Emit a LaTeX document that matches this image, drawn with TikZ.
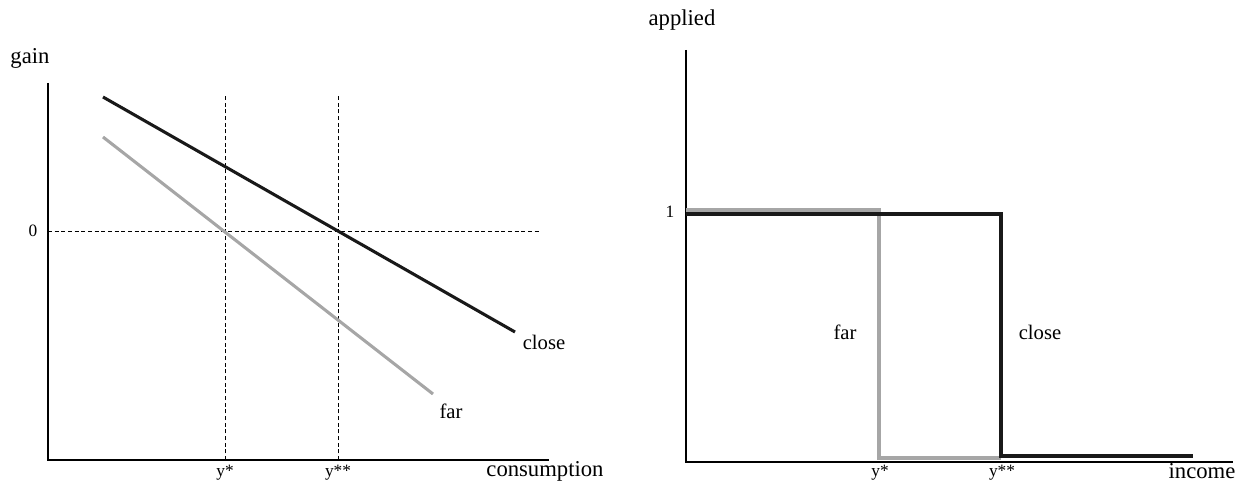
\documentclass[tikz,border=0pt]{standalone}
\usepackage{fontspec}
\setmainfont{Liberation Serif}
\begin{document}
\begin{tikzpicture}
		[x=0.75pt,y=-0.75pt,
		axis/.style={line width=1.5pt,black},
		closeline/.style={line width=2.3pt,black!90},
		farline/.style={line width=2.3pt,black!35},
		guide/.style={dashed,line width=0.6pt,dash pattern=on 3pt off 2pt},
		biglabel/.style={font=\fontsize{17}{20}\selectfont},
		midlabel/.style={font=\fontsize{15.5}{18}\selectfont},
		ticklabel/.style={font=\fontsize{13}{15}\selectfont}]
		\useasboundingbox (0,0) rectangle (1247,485);
		% left panel
		\coordinate (lo) at (48,460);
		\coordinate (ltop) at (48,83);
		\coordinate (lend) at (549,460);
		\coordinate (zero) at (48,231);
		\coordinate (zeroend) at (540,231);
		\coordinate (ys) at (225,460);
		\coordinate (ystop) at (225,95);
		\coordinate (yss) at (338,460);
		\coordinate (ysstop) at (338,95);
		\coordinate (c1) at (103,97);
		\coordinate (c2) at (515,332);
		\coordinate (f1) at (103,137);
		\coordinate (f2) at (433,394);
		\draw[guide] (zero) -- (zeroend);
		\draw[guide] (ys) -- (ystop);
		\draw[guide] (yss) -- (ysstop);
		\draw[axis] (ltop) -- (lo) -- (lend);
		\draw[farline] (f1) -- (f2);
		\draw[closeline] (c1) -- (c2);
		\node[biglabel,name=gain] at (30,58) {gain};
		\node[ticklabel,name=zerolbl] at (33,231) {0};
		\node[midlabel,name=lclose] at (544,342) {close};
		\node[midlabel,name=lfar] at (451,411) {far};
		\node[ticklabel,name=lys] at (225,473) {y*};
		\node[ticklabel,name=lyss] at (338,473) {y**};
		\node[biglabel,name=cons] at (545,471) {consumption};
		% right panel
		\coordinate (ro) at (686,462);
		\coordinate (rtop) at (686,50);
		\coordinate (rend) at (1233,462);
		\coordinate (g1) at (686,210);
		\coordinate (g2) at (879,210);
		\coordinate (g3) at (879,458);
		\coordinate (g4) at (1001,458);
		\coordinate (b1) at (686,214);
		\coordinate (b2) at (1001,214);
		\coordinate (b3) at (1001,456);
		\coordinate (b4) at (1193,456);
		\draw[axis] (rtop) -- (ro) -- (rend);
		\draw[farline] (g1) -- (g2) -- (g3) -- (g4);
		\draw[closeline] (b1) -- (b2) -- (b3) -- (b4);
		\node[biglabel,name=applied] at (682,20) {applied};
		\node[ticklabel,name=onelbl] at (670,212) {1};
		\node[midlabel,name=rfar] at (845,332) {far};
		\node[midlabel,name=rclose] at (1040,332) {close};
		\node[ticklabel,name=rys] at (880,473) {y*};
		\node[ticklabel,name=ryss] at (1002,473) {y**};
		\node[biglabel,name=income] at (1202,471) {income};
	\end{tikzpicture}
\end{document}
